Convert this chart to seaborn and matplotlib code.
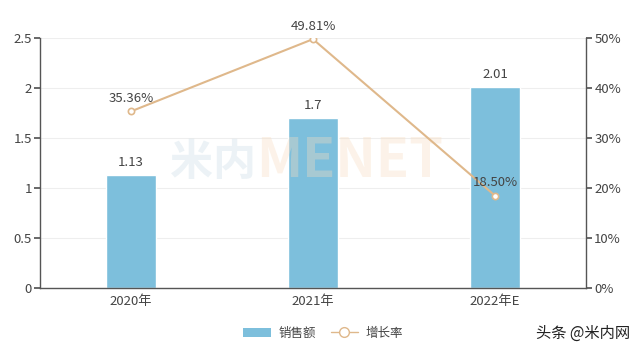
import numpy as np
import pandas as pd
import seaborn as sns
import matplotlib.pyplot as plt
from matplotlib.lines import Line2D
from matplotlib.patches import Patch

years = ["2020年", "2021年", "2022年E"]
sales = [1.13, 1.7, 2.01]
growth = [35.36, 49.81, 18.50]

bar_color = "#7dbfdc"
line_color = "#dfb88b"
axis_color = "#555555"
text_color = "#444444"

sns.set_theme(style="white")
plt.rcParams['font.family'] = ['Noto Sans CJK SC', 'DejaVu Sans']

fig = plt.figure(figsize=(6.4, 3.57), dpi=100)
ax = fig.add_axes([0.0625, 0.193, 0.853, 0.7])

df = pd.DataFrame({"year": years, "sales": sales})
sns.barplot(data=df, x="year", y="sales", color=bar_color, width=0.275,
            saturation=1, ax=ax, zorder=2)
ax.set_xlim(-0.5, len(years) - 0.5)
ax.set_ylim(0, 2.5)
ax.set_yticks(np.arange(0, 2.51, 0.5))
ax.set_yticklabels(["0", "0.5", "1", "1.5", "2", "2.5"])
ax.yaxis.grid(True, color="#eeeeee", linewidth=0.8, zorder=0)
ax.set_axisbelow(True)
ax.set_xlabel("")
ax.set_ylabel("")
for i, v in enumerate(sales):
    ax.text(i, v + 0.06, f"{v:g}", ha="center", va="bottom", fontsize=9.5, color=text_color)

for s in ["left", "bottom"]:
    ax.spines[s].set_color(axis_color)
    ax.spines[s].set_linewidth(1)
ax.spines["top"].set_visible(False)
ax.spines["right"].set_visible(False)
ax.tick_params(axis="y", direction="out", length=4, color=axis_color, labelcolor=text_color, labelsize=9.5, left=True, pad=2)
ax.tick_params(axis="x", length=0, labelcolor=text_color, labelsize=9.5, pad=5)

ax2 = ax.twinx()

# faint watermark behind the line
ax2.text(0.238, 0.505, "米内", transform=ax.transAxes, fontsize=31, fontweight="bold",
         color="#c9dbe6", alpha=0.35, ha="left", va="center", zorder=1)
ax2.text(0.395, 0.505, "MENET", transform=ax.transAxes, fontsize=39, fontweight="bold",
         color="#f8dcc0", alpha=0.35, ha="left", va="center", zorder=1)

xs = np.arange(len(years))
sns.lineplot(x=xs, y=growth, ax=ax2, color=line_color, linewidth=1.5,
             marker="o", markersize=4.5, markerfacecolor="white",
             markeredgecolor=line_color, markeredgewidth=1.2, zorder=5)
ax2.set_ylim(0, 50)
ax2.set_yticks(np.arange(0, 51, 10))
ax2.set_yticklabels([f"{t}%" for t in range(0, 51, 10)])
ax2.set_xlim(-0.5, len(years) - 0.5)
for spn in ["top", "left", "bottom"]:
    ax2.spines[spn].set_visible(False)
ax2.spines["right"].set_color(axis_color)
ax2.spines["right"].set_linewidth(1)
ax2.tick_params(axis="y", direction="out", length=4, color=axis_color, labelcolor=text_color, labelsize=9.5, right=True, pad=2)
for i, g in enumerate(growth):
    ax2.text(i, g + 1.3, f"{g:.2f}%", ha="center", va="bottom", fontsize=9.5, color=text_color, zorder=6)

handles = [Patch(facecolor=bar_color, edgecolor="none"),
           Line2D([0], [0], color=line_color, marker="o", markerfacecolor="white",
                  markeredgecolor=line_color, markersize=7, linewidth=1)]
fig.legend(handles, ["销售额", "增长率"], loc="center", bbox_to_anchor=(0.505, 0.067),
           ncol=2, frameon=False, fontsize=9, handlelength=2.2, columnspacing=1.2,
           handletextpad=0.6, labelcolor=text_color)

fig.text(0.985, 0.067, "头条 @米内网", fontsize=11, color="#222222", ha="right", va="center")

fig.savefig("out.png", dpi=100)
